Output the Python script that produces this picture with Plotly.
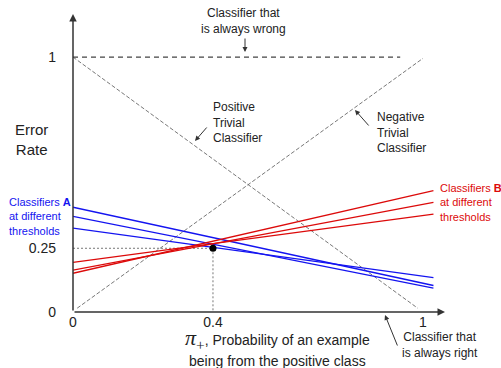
import plotly.graph_objects as go

# ---- data ----
x_ends = [0.0, 1.03]
blue_A = [[0.411, 0.104], [0.375, 0.094], [0.329, 0.135]]
red_B = [[0.195, 0.384], [0.164, 0.430], [0.152, 0.476]]
always_wrong_x = [0.0, 0.935]
always_wrong_y = [1.0, 1.0]
pos_trivial_x = [0.0, 0.985]
pos_trivial_y = [1.0, 0.015]
neg_trivial_x = [0.012, 1.0]
neg_trivial_y = [0.015, 0.995]
point_x = 0.4
point_y = 0.25
x_tickvals = [0, 0.4, 1]
x_ticktext = ["0", "0.4", "1"]
y_tickvals = [0, 0.25, 1]
y_ticktext = ["0", "0.25", "1"]

FONT = "Liberation Sans, Arial, sans-serif"
BLUE = "#1414f0"
RED = "#dc0a0a"

fig = go.Figure()

fig.add_trace(go.Scatter(x=always_wrong_x, y=always_wrong_y, mode="lines",
                         line=dict(color="#444", width=1.1, dash="5px,4px"), hoverinfo="skip"))
fig.add_trace(go.Scatter(x=pos_trivial_x, y=pos_trivial_y, mode="lines",
                         line=dict(color="#555", width=0.8, dash="4px,2px"), hoverinfo="skip"))
fig.add_trace(go.Scatter(x=neg_trivial_x, y=neg_trivial_y, mode="lines",
                         line=dict(color="#555", width=0.8, dash="4px,2px"), hoverinfo="skip"))
# dotted guides
fig.add_trace(go.Scatter(x=[0, point_x, point_x], y=[point_y, point_y, 0], mode="lines",
                         line=dict(color="#777", width=1, dash="2px,2px"), hoverinfo="skip"))

for ys in blue_A:
    fig.add_trace(go.Scatter(x=x_ends, y=ys, mode="lines",
                             line=dict(color=BLUE, width=1.3), hoverinfo="skip"))
for ys in red_B:
    fig.add_trace(go.Scatter(x=x_ends, y=ys, mode="lines",
                             line=dict(color=RED, width=1.3), hoverinfo="skip"))

fig.add_trace(go.Scatter(x=[point_x], y=[point_y], mode="markers",
                         marker=dict(color="black", size=7), hoverinfo="skip"))

XMAX = 1.063
YMAX = 1.169
# plot area in pixels: x 73..445 (372 px), y 14..312 (298 px)
PX_L, PX_W, PY_B, PY_H = 73, 372, 312, 298

def px(xp):
    return (xp - PX_L) / PX_W

def py(yp):
    return (PY_B - yp) / PY_H

ann = []
# axes drawn as arrows
ann.append(dict(x=0, y=YMAX, ax=0, ay=0, xref="x", yref="y", axref="x", ayref="y",
                text="", showarrow=True, arrowhead=2, arrowsize=1, arrowwidth=1.5, arrowcolor="#333"))
ann.append(dict(x=XMAX, y=0, ax=0, ay=0, xref="x", yref="y", axref="x", ayref="y",
                text="", showarrow=True, arrowhead=2, arrowsize=1, arrowwidth=1.5, arrowcolor="#333"))

def label(text, x, y, size=12, color="#222", xanchor="left", align="left"):
    ann.append(dict(x=px(x), y=py(y), xref="paper", yref="paper", text=text, showarrow=False,
                    xanchor=xanchor, yanchor="middle", align=align,
                    font=dict(family=FONT, size=size, color=color)))

def pointer(x0, y0, x1, y1):
    ann.append(dict(x=px(x1), y=py(y1), ax=x0 - x1, ay=y0 - y1, xref="paper", yref="paper",
                    axref="pixel", ayref="pixel",
                    text="", showarrow=True, arrowhead=2, arrowsize=1, arrowwidth=1,
                    arrowcolor="#333"))

label("Classifier that<br>is always wrong", 243, 21, xanchor="center", align="center")
pointer(245, 37, 245, 52)
label("Positive<br>Trivial<br>Classifier", 211, 123)
pointer(208, 126, 195, 141)
label("Negative<br>Trivial<br>Classifier", 375, 132)
pointer(370, 127, 355, 110)
label("Classifiers <b>A</b><br>at different<br>thresholds", 7, 216, size=11, color=BLUE)
label("Classifiers <b>B</b><br>at different<br>thresholds", 438, 202, size=11, color=RED)
label("Classifier that<br>is always right", 440, 345, xanchor="center", align="center")
pointer(398, 347, 385, 315)
label("Error<br>Rate", 31, 139, size=15, xanchor="center", align="center")

# x-axis title, two separate lines
ann.append(dict(x=px(277), y=py(339), xref="paper", yref="paper", showarrow=False,
                xanchor="center", yanchor="middle", align="center",
                text=("<span style='font-family:Liberation Serif, serif;font-size:22px'><i>π</i>"
                      "<sub>+</sub></span>, Probability of an example"),
                font=dict(family=FONT, size=14, color="#222")))
ann.append(dict(x=px(277), y=py(361), xref="paper", yref="paper", showarrow=False,
                xanchor="center", yanchor="middle", align="center",
                text="being from the positive class",
                font=dict(family=FONT, size=14, color="#222")))

fig.update_layout(
    width=501, height=368,
    margin=dict(l=73, r=56, t=14, b=56),
    paper_bgcolor="white", plot_bgcolor="white",
    showlegend=False,
    font=dict(family=FONT, size=14, color="#222"),
    xaxis=dict(range=[0, XMAX], showgrid=False, zeroline=False, showline=False,
               tickvals=x_tickvals, ticktext=x_ticktext, ticks="",
               ticklabelstandoff=0),
    yaxis=dict(range=[0, YMAX], showgrid=False, zeroline=False, showline=False,
               tickvals=y_tickvals, ticktext=y_ticktext, ticks="",
               ticklabelstandoff=16),
    annotations=ann,
)

fig.write_html("out.html")
